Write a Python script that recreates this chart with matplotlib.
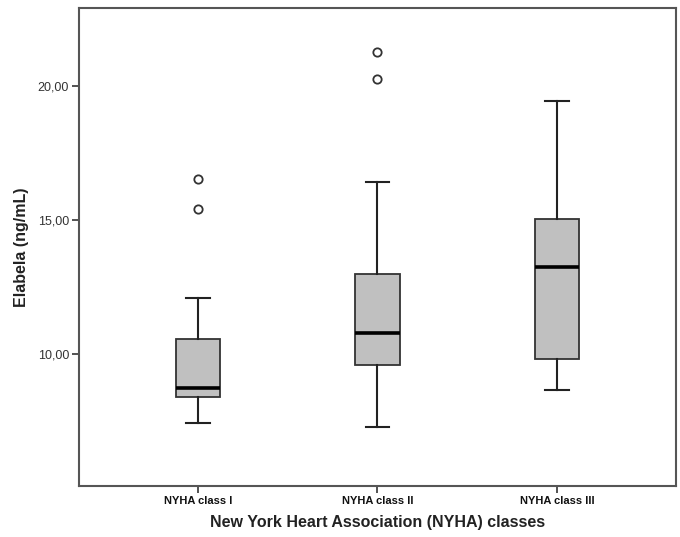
import matplotlib
matplotlib.use('Agg')
import matplotlib.pyplot as plt

# values (ng/mL)
groups = ['NYHA class I', 'NYHA class II', 'NYHA class III']
whisker_low = [7.45, 7.29, 8.67]
q1 = [8.41, 9.61, 9.81]
medians = [8.75, 10.80, 13.24]
q3 = [10.58, 12.98, 15.04]
whisker_high = [12.08, 16.40, 19.42]
outliers = [[16.53, 15.41], [21.27, 20.26], []]

y_ticks = [10, 15, 20]
y_tick_labels = ['10,00', '15,00', '20,00']

plt.rcParams['font.family'] = ['Liberation Sans', 'DejaVu Sans']

stats = []
for i, name in enumerate(groups):
    stats.append({'label': name, 'whislo': whisker_low[i], 'q1': q1[i],
                  'med': medians[i], 'q3': q3[i], 'whishi': whisker_high[i],
                  'fliers': outliers[i]})

fig = plt.figure(figsize=(6.8, 5.37), dpi=100)
ax = fig.add_axes([0.1157, 0.095, 0.994 - 0.1157, 0.9845 - 0.095])

ax.bxp(stats, positions=[1, 2, 3], widths=0.25, patch_artist=True,
       boxprops=dict(facecolor='#c0c0c0', edgecolor='#333333', linewidth=1.3),
       medianprops=dict(color='black', linewidth=2.6),
       whiskerprops=dict(color='#222222', linewidth=1.5),
       capprops=dict(color='#222222', linewidth=1.5),
       capwidths=0.13,
       flierprops=dict(marker='o', markerfacecolor='white', markeredgecolor='#333333',
                       markersize=6, markeredgewidth=1.3))

ax.set_xlim(0.335, 3.663)
ax.set_ylim(5.10, 22.88)
ax.set_yticks(y_ticks)
ax.set_yticklabels(y_tick_labels, fontsize=9, color='#333333')
ax.set_xticks([1, 2, 3])
ax.set_xticklabels(groups, fontsize=8, fontweight='bold', color='#111111')
ax.tick_params(axis='both', direction='out', length=5, width=1.3, color='#444444')
ax.tick_params(axis='x', pad=2)
ax.tick_params(axis='y', pad=2)

for s in ax.spines.values():
    s.set_color('#555555')
    s.set_linewidth(1.5)

ax.set_ylabel('Elabela (ng/mL)', fontsize=11.5, fontweight='bold', color='#222222', labelpad=6)
ax.set_xlabel('New York Heart Association (NYHA) classes', fontsize=11.5,
              fontweight='bold', color='#222222', labelpad=7)

fig.savefig('out.png', dpi=100)
